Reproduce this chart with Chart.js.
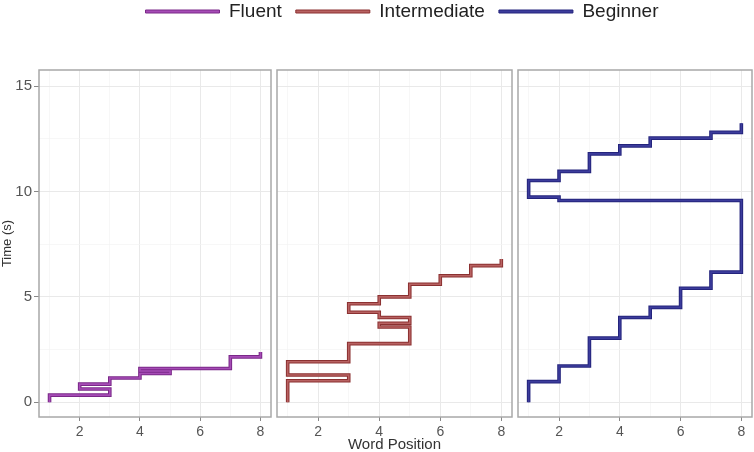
<!DOCTYPE html>
<html>
<head>
<meta charset="utf-8">
<script src="https://cdn.jsdelivr.net/npm/chart.js@4/dist/chart.umd.min.js"></script>
<style>
  html, body { margin: 0; padding: 0; background: #fff; }
  #wrap { position: relative; width: 754px; height: 452px; overflow: hidden; }
  .layer { position: absolute; left: 0; top: 0; width: 754px; height: 452px; }
  #legendLayer { top: -12px; }
</style>
</head>
<body>
<div id="wrap">
  <div class="layer" id="legendLayer"><canvas id="legendChart"></canvas></div>
  <div class="layer"><canvas id="fluentChart"></canvas></div>
  <div class="layer"><canvas id="intermediateChart"></canvas></div>
  <div class="layer"><canvas id="beginnerChart"></canvas></div>
</div>
<script>
// word position / time (s) of each step, in reading order
const fluentWord = [1, 3, 2, 3, 4, 5, 4, 7, 8, 8];
const fluentTime = [0, 0.34, 0.63, 0.86, 1.15, 1.36, 1.48, 1.6, 2.15, 2.38];

const intermediateWord = [1, 3, 1, 3, 5, 4, 5, 4, 3, 4, 5, 6, 7, 8, 8];
const intermediateTime = [0, 1.02, 1.29, 1.92, 2.78, 3.57, 3.75, 4.02, 4.27, 4.67, 5.0, 5.6, 6.0, 6.48, 6.79];

const beginnerWord = [1, 2, 3, 4, 5, 6, 7, 8, 2, 1, 2, 3, 4, 5, 7, 8, 8];
const beginnerTime = [0, 0.98, 1.72, 3.04, 4.02, 4.5, 5.41, 6.17, 9.57, 9.73, 10.52, 10.95, 11.78, 12.16, 12.53, 12.8, 13.24];

const groups = ['Fluent', 'Intermediate', 'Beginner'];
const darkColors = ['#7A2888', '#8B3131', '#24247C'];
const lightColors = ['#A64CB6', '#B86262', '#3C3C9C'];

const xTicks = [1, 2, 3, 4, 5, 6, 7, 8];
const xMajor = [2, 4, 6, 8];
const yTicks = [0, 2.5, 5, 7.5, 10, 12.5, 15];
const yMajor = [0, 5, 10, 15];

const FONT = '"Liberation Sans", Arial, sans-serif';

const panelBorder = {
  id: 'panelBorder',
  afterDatasetsDraw(chart) {
    const a = chart.chartArea;
    const ctx = chart.ctx;
    ctx.save();
    ctx.strokeStyle = '#a8a8a8';
    ctx.lineWidth = 1.5;
    ctx.strokeRect(a.left, a.top, a.right - a.left, a.bottom - a.top);
    ctx.restore();
  }
};

function toPoints(words, times) {
  return words.map((w, i) => ({ x: w, y: times[i] }));
}

function gridColor(ctx, major) {
  return major.includes(ctx.tick.value) ? '#e9e9e9' : '#f3f3f3';
}

function makePanel(id, idx, words, times, pad, opts) {
  const pts = toPoints(words, times);
  new Chart(document.getElementById(id), {
    type: 'line',
    data: {
      // first dataset is drawn on top: light core over the dark outline
      datasets: [{
        data: pts,
        borderColor: lightColors[idx],
        borderWidth: 1.6,
        stepped: 'after',
        pointRadius: 0,
        fill: false
      }, {
        data: pts,
        borderColor: darkColors[idx],
        borderWidth: 3.6,
        stepped: 'after',
        pointRadius: 0,
        fill: false
      }]
    },
    options: {
      responsive: true,
      maintainAspectRatio: false,
      animation: false,
      events: [],
      layout: { padding: pad },
      plugins: { legend: { display: false }, tooltip: { enabled: false } },
      scales: {
        x: {
          type: 'linear',
          min: 0.65,
          max: 8.35,
          afterBuildTicks: s => { s.ticks = xTicks.map(v => ({ value: v })); },
          afterFit: s => { s.height = 35; },
          border: { display: false },
          grid: {
            color: c => gridColor(c, xMajor),
            lineWidth: c => xMajor.includes(c.tick.value) ? 1 : 0.7,
            tickColor: c => xMajor.includes(c.tick.value) ? '#888' : 'rgba(0,0,0,0)',
            tickLength: 4
          },
          ticks: {
            autoSkip: false,
            maxRotation: 0,
            padding: 3,
            color: '#555',
            font: { family: FONT, size: 14 },
            callback: v => xMajor.includes(v) ? String(v) : ''
          },
          title: {
            display: opts.xTitle,
            text: 'Word Position',
            color: '#333',
            padding: { top: 0, bottom: 0 },
            font: { family: FONT, size: 15, lineHeight: 1 }
          }
        },
        y: {
          type: 'linear',
          min: -0.7,
          max: 15.76,
          afterBuildTicks: s => { s.ticks = yTicks.map(v => ({ value: v })); },
          afterFit: s => { s.width = opts.yAxis ? 39 : 0; },
          border: { display: false },
          grid: {
            color: c => gridColor(c, yMajor),
            lineWidth: c => yMajor.includes(c.tick.value) ? 1 : 0.7,
            drawTicks: opts.yAxis,
            tickColor: c => yMajor.includes(c.tick.value) ? '#888' : 'rgba(0,0,0,0)',
            tickLength: 5
          },
          ticks: {
            display: opts.yAxis,
            autoSkip: false,
            padding: 2,
            color: '#555',
            font: { family: FONT, size: 15 },
            callback: v => yMajor.includes(v) ? String(v) : ''
          },
          title: {
            display: opts.yAxis,
            text: 'Time (s)',
            color: '#333',
            padding: { top: 0, bottom: 0 },
            font: { family: FONT, size: 13 }
          }
        }
      }
    },
    plugins: [panelBorder]
  });
}

makePanel('fluentChart', 0, fluentWord, fluentTime,
  { left: 0, top: 70, right: 483, bottom: 0 }, { yAxis: true, xTitle: false });
makePanel('intermediateChart', 1, intermediateWord, intermediateTime,
  { left: 277, top: 70, right: 242, bottom: 0 }, { yAxis: false, xTitle: true });
makePanel('beginnerChart', 2, beginnerWord, beginnerTime,
  { left: 518, top: 70, right: 2, bottom: 0 }, { yAxis: false, xTitle: false });

// legend only
new Chart(document.getElementById('legendChart'), {
  type: 'line',
  data: {
    datasets: groups.map((g, i) => ({
      label: g,
      data: [],
      borderColor: darkColors[i],
      backgroundColor: lightColors[i],
      borderWidth: 1
    }))
  },
  options: {
    responsive: true,
    maintainAspectRatio: false,
    animation: false,
    events: [],
    layout: { padding: { left: 50, top: 0 } },
    scales: { x: { display: false }, y: { display: false } },
    plugins: {
      tooltip: { enabled: false },
      legend: {
        position: 'top',
        labels: {
          boxWidth: 74,
          boxHeight: 3,
          padding: 14,
          color: '#222',
          font: { family: FONT, size: 19 }
        }
      }
    }
  }
});
</script>
</body>
</html>
